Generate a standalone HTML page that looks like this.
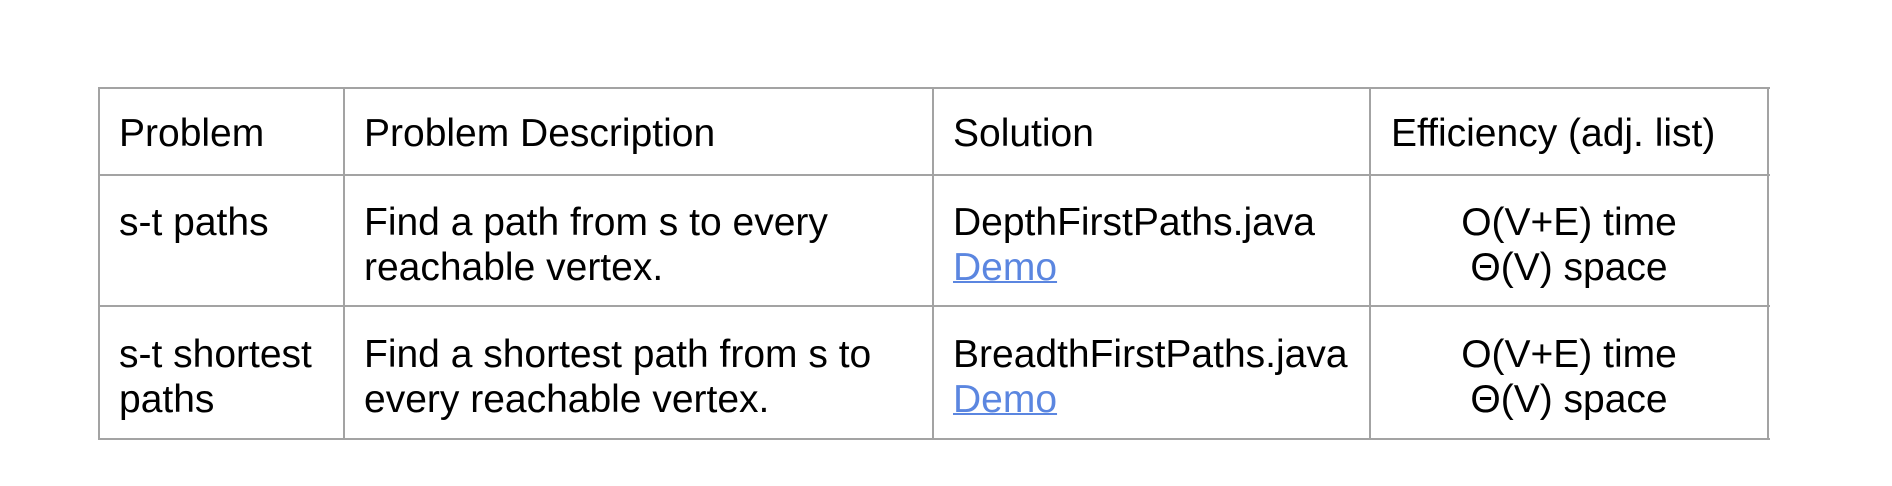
<!DOCTYPE html>
<html><head><meta charset="utf-8"><style>
html,body{margin:0;padding:0;background:#fff;}
body{width:1892px;height:486px;position:relative;overflow:hidden;font-family:"Liberation Sans",Arial,sans-serif;font-size:39px;line-height:45px;color:#000;}
.h{position:absolute;background:#a3a3a3;height:2px;left:99px;width:1671px;}
.v{position:absolute;background:#a3a3a3;width:2px;top:88px;height:353px;}
.t{position:absolute;white-space:nowrap;}
.c{text-align:center;width:398px;left:1370px;}
a{color:#5b86e0;text-decoration:underline;text-decoration-thickness:2px;}
</style></head><body>
<div class="h" style="top:87px"></div>
<div class="h" style="top:174px"></div>
<div class="h" style="top:305px"></div>
<div class="h" style="top:438px"></div>
<div class="v" style="left:98px;top:87px"></div>
<div class="v" style="left:343px;top:87px"></div>
<div class="v" style="left:932px;top:87px"></div>
<div class="v" style="left:1369px;top:87px"></div>
<div class="v" style="left:1767px;top:87px"></div>

<div class="t" style="left:119px;top:111px">Problem</div>
<div class="t" style="left:364px;top:111px">Problem Description</div>
<div class="t" style="left:953px;top:111px">Solution</div>
<div class="t" style="left:1391px;top:111px">Efficiency (adj. list)</div>

<div class="t" style="left:119px;top:200px">s-t paths</div>
<div class="t" style="left:364px;top:200px">Find a path from s to every<br>reachable vertex.</div>
<div class="t" style="left:953px;top:200px">DepthFirstPaths.java<br><a>Demo</a></div>
<div class="t c" style="top:200px">O(V+E) time<br>Θ(V) space</div>

<div class="t" style="left:119px;top:332px">s-t shortest<br>paths</div>
<div class="t" style="left:364px;top:332px">Find a shortest path from s to<br>every reachable vertex.</div>
<div class="t" style="left:953px;top:332px">BreadthFirstPaths.java<br><a>Demo</a></div>
<div class="t c" style="top:332px">O(V+E) time<br>Θ(V) space</div>
</body></html>
